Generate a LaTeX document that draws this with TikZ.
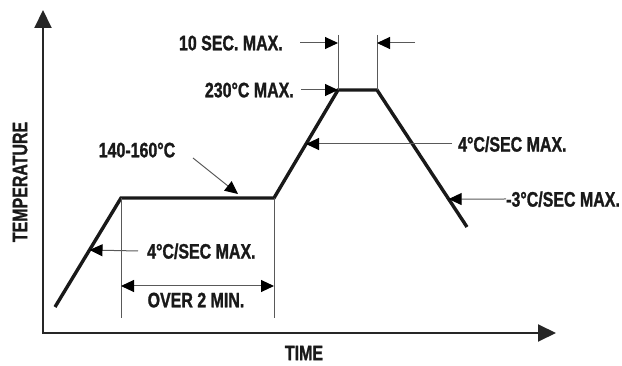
\documentclass[tikz,border=0pt]{standalone}
\usepackage{fontspec}
\setmainfont{Liberation Sans}
\newfontfamily\lblfont{Liberation Sans Bold}[FakeStretch=0.76, FakeBold=1.2]
\usetikzlibrary{arrows.meta,calc}
\begin{document}
\begin{tikzpicture}[x=1pt,y=-1pt,
  lbl/.style={font=\lblfont\fontsize{21}{21}\selectfont, inner sep=0pt, text depth=0pt, text=black!90},
  guide/.style={line width=1pt, draw=black!65},
  ptr/.style={guide, -{Triangle[length=13pt,width=12pt,color=black]}},
  dptr/.style={guide, {Triangle[length=13pt,width=12pt,color=black]}-{Triangle[length=13pt,width=12pt,color=black]}},
  prof/.style={line width=3.4pt, draw=black!90},
  axes/.style={line width=2pt, draw=black!85, {Triangle[length=18pt,width=17pt]}-{Triangle[length=18pt,width=17pt]}}]
\useasboundingbox (0,0) rectangle (622,366);
% axes
\coordinate (O) at (43,333);
\coordinate (ytop) at (43,10);
\coordinate (xend) at (556,333);
\draw[axes] (ytop) -- (O) -- (xend);
% profile
\coordinate (p0) at (55,307);
\coordinate (p1) at (121,198);
\coordinate (p2) at (274,198);
\coordinate (p3) at (338,90);
\coordinate (p4) at (377,90);
\coordinate (p5) at (467,227);
\draw[prof] (p0) -- (p1) -- (p2) -- (p3) -- (p4) -- (p5);
% guides
\coordinate (g1) at (121,318);
\coordinate (g2) at (274,318);
\coordinate (g3) at (338,35);
\coordinate (g4) at (377,35);
\draw[guide] (p1) -- (g1);
\draw[guide] (p2) -- (g2);
\draw[guide] (g3) -- (p3);
\draw[guide] (g4) -- (p4);
% over 2 min
\coordinate (d1) at (121,286);
\coordinate (d2) at (274,286);
\draw[dptr] (d1) -- (d2);
\node[lbl] (over) at (196,300) {OVER 2 MIN.};
% 10 sec
\node[lbl, anchor=east] (tsec) at (283,43) {10 SEC. MAX.};
\coordinate (s1) at (338,43);
\coordinate (s2) at (377,43);
\coordinate (s3) at (415,43);
\draw[ptr] ([xshift=17pt]tsec.east) -- (s1);
\draw[ptr] (s3) -- (s2);
% 230
\node[lbl, anchor=east] (tpeak) at (294,90) {230°C MAX.};
\draw[ptr] ([xshift=7pt]tpeak.east) -- (p3);
% 140-160
\node[lbl] (tsoak) at (137,150) {140-160°C};
\coordinate (k1) at (193,158);
\coordinate (k2) at (238,194);
\draw[ptr] (k1) -- (k2);
% left ramp
\node[lbl, anchor=west] (tramp1) at (147,251) {4°C/SEC MAX.};
\coordinate (r1) at ($(p0)!0.523!(p1)$);
\draw[ptr] ([xshift=-9pt]tramp1.west) -- (r1);
% right ramp
\node[lbl, anchor=west] (tramp2) at (458,144) {4°C/SEC MAX.};
\coordinate (r2) at ($(p2)!0.5!(p3)$);
\draw[ptr] ([xshift=-6pt]tramp2.west) -- (r2);
% cool
\node[lbl, anchor=west] (tcool) at (506,199) {-3°C/SEC MAX.};
\coordinate (r3) at ($(p4)!0.796!(p5)$);
\draw[ptr] (tcool.west) -- (r3);
% axis labels
\node[lbl] (ttime) at (304,353) {TIME};
\node[lbl, rotate=90] (ttemp) at (20,182) {TEMPERATURE};
\end{tikzpicture}
\end{document}
